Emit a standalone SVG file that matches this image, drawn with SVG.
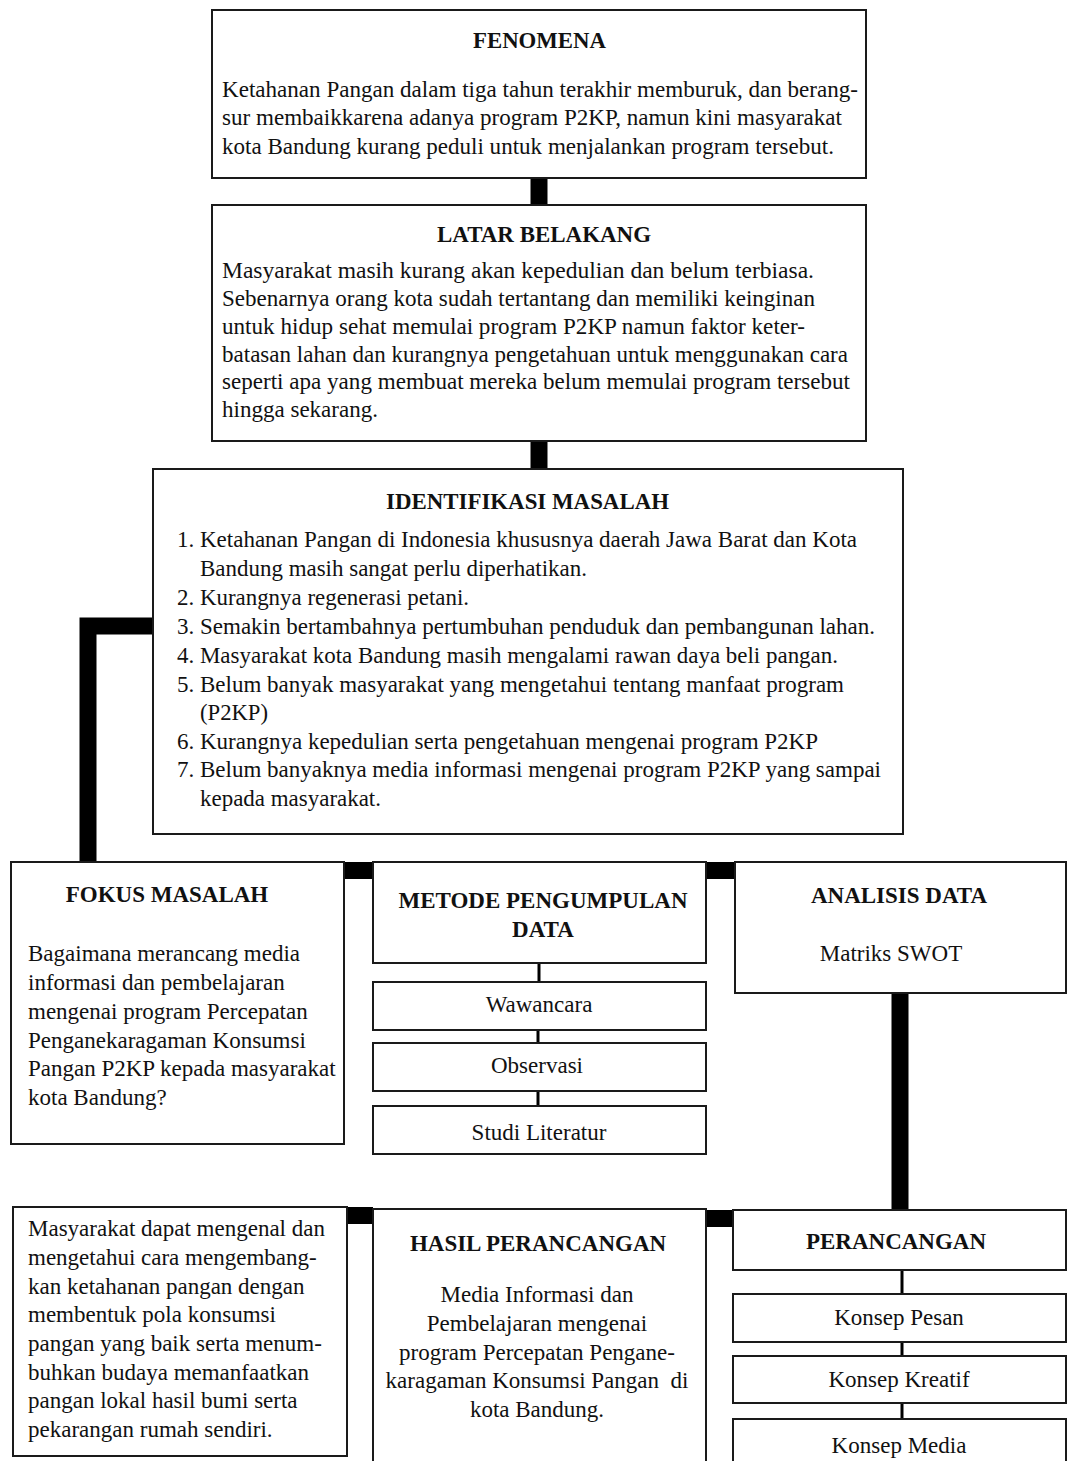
<svg xmlns="http://www.w3.org/2000/svg" width="1067" height="1461" viewBox="0 0 1067 1461">
<style>
.box{fill:#fff;stroke:#1a1a1a;stroke-width:2}
.t{font-family:"Liberation Serif","Times New Roman",serif;font-size:23px;fill:#111}
.b{font-weight:bold}
.c{text-anchor:middle}
.thick{fill:none;stroke:#000;stroke-width:17}
.thin{fill:none;stroke:#000;stroke-width:3}
.blk{fill:#000}
</style>
<rect width="1067" height="1461" fill="#fff"/>
<g id="connectors">
<line class="thick" x1="539" y1="178" x2="539" y2="205"/>
<line class="thick" x1="539" y1="441" x2="539" y2="469"/>
<path class="thick" d="M153 626 H88 V862"/>
<rect class="blk" x="344" y="862" width="29" height="17"/>
<rect class="blk" x="706" y="862" width="29" height="17"/>
<line class="thick" x1="900" y1="993" x2="900" y2="1210"/>
<line class="thin" x1="539" y1="963" x2="539" y2="982"/>
<line class="thin" x1="538" y1="1030" x2="538" y2="1043"/>
<line class="thin" x1="538" y1="1091" x2="538" y2="1106"/>
<rect class="blk" x="347" y="1207" width="26" height="17"/>
<rect class="blk" x="706" y="1210" width="27" height="17"/>
<line class="thin" x1="902" y1="1270" x2="902" y2="1294"/>
<line class="thin" x1="902" y1="1342" x2="902" y2="1356"/>
<line class="thin" x1="902" y1="1403" x2="902" y2="1419"/>
</g>
<g id="fenomena">
<rect class="box" x="212" y="10" width="654" height="168"/>
<text class="t b" x="473" y="48" textLength="133" lengthAdjust="spacingAndGlyphs">FENOMENA</text>
<text class="t" x="222" y="97" textLength="636" lengthAdjust="spacingAndGlyphs">Ketahanan Pangan dalam tiga tahun terakhir memburuk, dan berang-</text>
<text class="t" x="222" y="125" textLength="620" lengthAdjust="spacingAndGlyphs">sur membaikkarena adanya program P2KP, namun kini masyarakat</text>
<text class="t" x="222" y="154" textLength="612" lengthAdjust="spacingAndGlyphs">kota Bandung kurang peduli untuk menjalankan program tersebut.</text>
</g>
<g id="latar-belakang">
<rect class="box" x="212" y="205" width="654" height="236"/>
<text class="t b" x="437" y="242" textLength="214" lengthAdjust="spacingAndGlyphs">LATAR BELAKANG</text>
<text class="t" x="222" y="278" textLength="592" lengthAdjust="spacingAndGlyphs">Masyarakat masih kurang akan kepedulian dan belum terbiasa.</text>
<text class="t" x="222" y="306" textLength="593" lengthAdjust="spacingAndGlyphs">Sebenarnya orang kota sudah tertantang dan memiliki keinginan</text>
<text class="t" x="222" y="334" textLength="583" lengthAdjust="spacingAndGlyphs">untuk hidup sehat memulai program P2KP namun faktor keter-</text>
<text class="t" x="222" y="362" textLength="626" lengthAdjust="spacingAndGlyphs">batasan lahan dan kurangnya pengetahuan untuk menggunakan cara</text>
<text class="t" x="222" y="389" textLength="628" lengthAdjust="spacingAndGlyphs">seperti apa yang membuat mereka belum memulai program tersebut</text>
<text class="t" x="222" y="417" textLength="156" lengthAdjust="spacingAndGlyphs">hingga sekarang.</text>
</g>
<g id="identifikasi-masalah">
<rect class="box" x="153" y="469" width="750" height="365"/>
<text class="t b" x="386" y="509" textLength="283" lengthAdjust="spacingAndGlyphs">IDENTIFIKASI MASALAH</text>
<text class="t" x="177" y="547" textLength="680" lengthAdjust="spacingAndGlyphs">1. Ketahanan Pangan di Indonesia khususnya daerah Jawa Barat dan Kota</text>
<text class="t" x="200" y="576" textLength="387" lengthAdjust="spacingAndGlyphs">Bandung masih sangat perlu diperhatikan.</text>
<text class="t" x="177" y="605" textLength="292" lengthAdjust="spacingAndGlyphs">2. Kurangnya regenerasi petani.</text>
<text class="t" x="177" y="634" textLength="698" lengthAdjust="spacingAndGlyphs">3. Semakin bertambahnya pertumbuhan penduduk dan pembangunan lahan.</text>
<text class="t" x="177" y="663" textLength="661" lengthAdjust="spacingAndGlyphs">4. Masyarakat kota Bandung masih mengalami rawan daya beli pangan.</text>
<text class="t" x="177" y="692" textLength="667" lengthAdjust="spacingAndGlyphs">5. Belum banyak masyarakat yang mengetahui tentang manfaat program</text>
<text class="t" x="200" y="720" textLength="68" lengthAdjust="spacingAndGlyphs">(P2KP)</text>
<text class="t" x="177" y="749" textLength="641" lengthAdjust="spacingAndGlyphs">6. Kurangnya kepedulian serta pengetahuan mengenai program P2KP</text>
<text class="t" x="177" y="777" textLength="704" lengthAdjust="spacingAndGlyphs">7. Belum banyaknya media informasi mengenai program P2KP yang sampai</text>
<text class="t" x="200" y="806" textLength="181" lengthAdjust="spacingAndGlyphs">kepada masyarakat.</text>
</g>
<g id="fokus-masalah">
<rect class="box" x="11" y="862" width="333" height="282"/>
<text class="t b" x="167" y="902" text-anchor="middle">FOKUS MASALAH</text>
<text class="t" x="28" y="961">Bagaimana merancang media</text>
<text class="t" x="28" y="990">informasi dan pembelajaran</text>
<text class="t" x="28" y="1019">mengenai program Percepatan</text>
<text class="t" x="28" y="1048">Penganekaragaman Konsumsi</text>
<text class="t" x="28" y="1076">Pangan P2KP kepada masyarakat</text>
<text class="t" x="28" y="1105">kota Bandung?</text>
</g>
<g id="metode-pengumpulan-data">
<rect class="box" x="373" y="862" width="333" height="101"/>
<text class="t b c" x="543" y="908">METODE PENGUMPULAN</text>
<text class="t b c" x="543" y="937">DATA</text>
</g>
<g id="wawancara">
<rect class="box" x="373" y="982" width="333" height="48"/>
<text class="t c" x="539" y="1012">Wawancara</text>
</g>
<g id="observasi">
<rect class="box" x="373" y="1043" width="333" height="48"/>
<text class="t c" x="537" y="1073">Observasi</text>
</g>
<g id="studi-literatur">
<rect class="box" x="373" y="1106" width="333" height="48"/>
<text class="t c" x="539" y="1140">Studi Literatur</text>
</g>
<g id="analisis-data">
<rect class="box" x="735" y="862" width="331" height="131"/>
<text class="t b c" x="899" y="903">ANALISIS DATA</text>
<text class="t c" x="891" y="961">Matriks SWOT</text>
</g>
<g id="hasil-akhir">
<rect class="box" x="13" y="1207" width="334" height="249"/>
<text class="t" x="28" y="1236">Masyarakat dapat mengenal dan</text>
<text class="t" x="28" y="1265">mengetahui cara mengembang-</text>
<text class="t" x="28" y="1294">kan ketahanan pangan dengan</text>
<text class="t" x="28" y="1322">membentuk pola konsumsi</text>
<text class="t" x="28" y="1351">pangan yang baik serta menum-</text>
<text class="t" x="28" y="1380">buhkan budaya memanfaatkan</text>
<text class="t" x="28" y="1408">pangan lokal hasil bumi serta</text>
<text class="t" x="28" y="1437">pekarangan rumah sendiri.</text>
</g>
<g id="hasil-perancangan">
<rect class="box" x="373" y="1209" width="333" height="270"/>
<text class="t b c" x="538" y="1251">HASIL PERANCANGAN</text>
<text class="t c" x="537" y="1302">Media Informasi dan</text>
<text class="t c" x="537" y="1331">Pembelajaran mengenai</text>
<text class="t c" x="537" y="1360">program Percepatan Pengane-</text>
<text class="t c" x="537" y="1388" xml:space="preserve">karagaman Konsumsi Pangan  di</text>
<text class="t c" x="537" y="1417">kota Bandung.</text>
</g>
<g id="perancangan">
<rect class="box" x="733" y="1210" width="333" height="60"/>
<text class="t b c" x="896" y="1249">PERANCANGAN</text>
</g>
<g id="konsep-pesan">
<rect class="box" x="733" y="1294" width="333" height="48"/>
<text class="t c" x="899" y="1325">Konsep Pesan</text>
</g>
<g id="konsep-kreatif">
<rect class="box" x="733" y="1356" width="333" height="47"/>
<text class="t c" x="899" y="1387">Konsep Kreatif</text>
</g>
<g id="konsep-media">
<rect class="box" x="733" y="1419" width="333" height="60"/>
<text class="t c" x="899" y="1453">Konsep Media</text>
</g>
</svg>
